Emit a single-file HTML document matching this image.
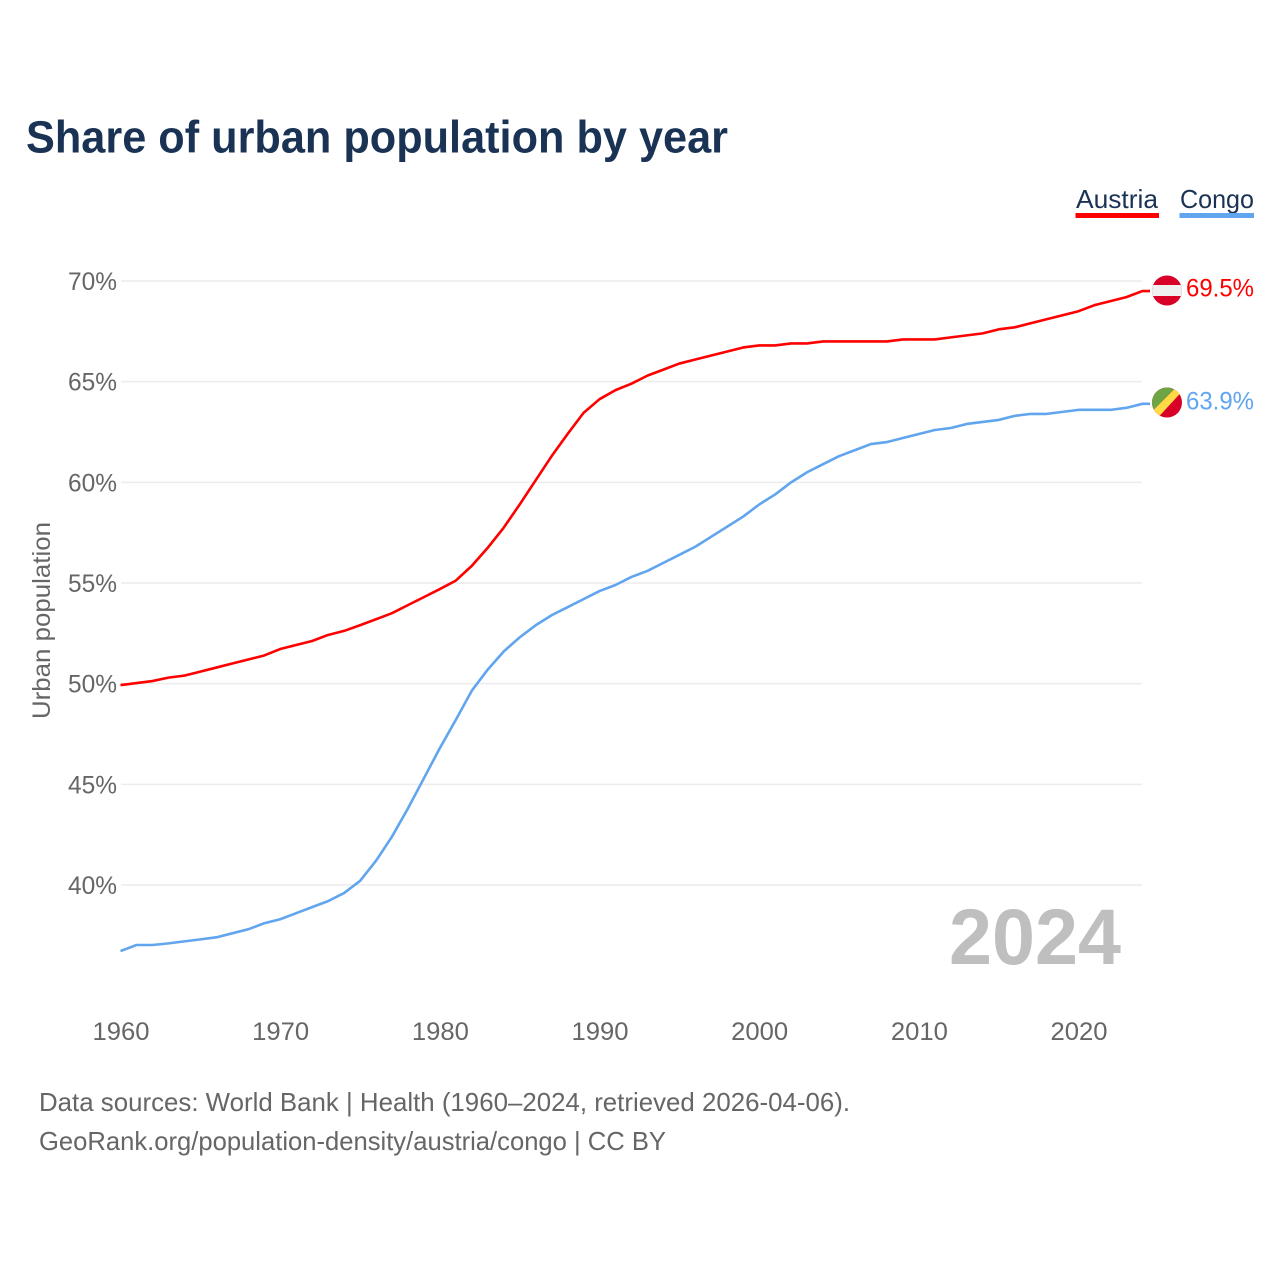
<!DOCTYPE html>
<html lang="en">
<head>
<meta charset="utf-8">
<title>Share of urban population by year</title>
<style>
html,body{margin:0;padding:0;background:#fff;}
svg{display:block;}
text{font-family:"Liberation Sans",sans-serif;}
</style>
</head>
<body>
<svg id="chart" xmlns="http://www.w3.org/2000/svg" width="1280" height="1280" viewBox="0 0 1280 1280">
  <rect width="1280" height="1280" fill="#fff"/>
  <text x="26" y="152.500" font-size="45" font-weight="700" fill="#1a3355" textLength="702" lengthAdjust="spacingAndGlyphs">Share of urban population by year</text>

  <g>
    <text x="1076" y="208" font-size="26" fill="#1a3355" textLength="82" lengthAdjust="spacingAndGlyphs">Austria</text>
    <rect x="1075.500" y="213" width="83.500" height="5" fill="#ff0000"/>
  </g>
  <g>
    <text x="1180" y="208" font-size="26" fill="#1a3355" textLength="74" lengthAdjust="spacingAndGlyphs">Congo</text>
    <rect x="1179.500" y="213" width="74.500" height="5" fill="#60a5ee"/>
  </g>

  <g id="grid"></g>
  <g id="y-ticks"></g>
  <g id="x-ticks"></g>
  <text transform="translate(50,719) rotate(-90)" font-size="25" fill="#666" textLength="197" lengthAdjust="spacingAndGlyphs">Urban population</text>

  <text x="949" y="964" font-size="79" font-weight="700" fill="#bfbfbf" textLength="172" lengthAdjust="spacingAndGlyphs">2024</text>
  <g id="series"></g>

  <defs>
    <clipPath id="flag-clip-austria"><circle cx="1167" cy="290.500" r="15"/></clipPath>
    <clipPath id="flag-clip-congo"><circle cx="1167" cy="402.500" r="15"/></clipPath>
  </defs>
  <g id="flag-austria" clip-path="url(#flag-clip-austria)">
    <rect x="1152" y="275" width="30" height="31" fill="#d80027"/>
    <rect x="1152" y="285" width="30" height="11" fill="#f0f0f0"/>
  </g>
  <g id="flag-congo" clip-path="url(#flag-clip-congo)">
    <rect x="1152" y="387.500" width="30" height="30" fill="#d80027"/>
    <polygon points="1152,387.500 1176,387.500 1152,411.500" fill="#6da544"/>
    <polygon points="1176,387.500 1182,391.500 1158,417.500 1152,411.500" fill="#ffda44"/>
  </g>
  <text x="1186" y="296.500" font-size="25" fill="#ff0000" textLength="68" lengthAdjust="spacingAndGlyphs">69.5%</text>
  <text x="1186" y="409.500" font-size="25" fill="#60a5ee" textLength="68" lengthAdjust="spacingAndGlyphs">63.9%</text>

  <text x="39" y="1111" font-size="26" fill="#666" textLength="811" lengthAdjust="spacingAndGlyphs">Data sources: World Bank | Health (1960–2024, retrieved 2026-04-06).</text>
  <text x="39" y="1150" font-size="26" fill="#666" textLength="627" lengthAdjust="spacingAndGlyphs">GeoRank.org/population-density/austria/congo | CC BY</text>
</svg>
<script>
const startYear = 1960;
const austriaValues = [49.93,50.03,50.13,50.3,50.4,50.6,50.8,51.0,51.2,51.4,51.72,51.92,52.12,52.42,52.62,52.9,53.2,53.5,53.9,54.3,54.7,55.12,55.85,56.75,57.75,58.9,60.1,61.3,62.4,63.45,64.13,64.58,64.9,65.3,65.6,65.9,66.1,66.3,66.5,66.7,66.8,66.8,66.9,66.9,67.0,67.0,67.0,67.0,67.0,67.1,67.1,67.1,67.2,67.3,67.4,67.6,67.7,67.9,68.1,68.3,68.5,68.8,69.0,69.2,69.5];
const congoValues = [36.72,37.02,37.02,37.1,37.2,37.3,37.4,37.6,37.8,38.1,38.3,38.6,38.9,39.2,39.6,40.2,41.2,42.4,43.8,45.3,46.8,48.2,49.65,50.7,51.6,52.3,52.9,53.4,53.8,54.2,54.6,54.9,55.3,55.6,56.0,56.4,56.8,57.3,57.8,58.3,58.9,59.4,60.0,60.5,60.9,61.3,61.6,61.9,62.0,62.2,62.4,62.6,62.7,62.9,63.0,63.1,63.3,63.4,63.4,63.5,63.6,63.6,63.6,63.7,63.9];
const yTicks = [40,45,50,55,60,65,70];
const xTicks = [1960,1970,1980,1990,2000,2010,2020];

const NS = 'http://www.w3.org/2000/svg';
function xScale(year){ return 120.500 + (year - 1960) * 15.967; }
function yScale(v){ return 885 - (v - 40) * 20.133; }

const gridG = document.getElementById('grid');
const yG = document.getElementById('y-ticks');
const xG = document.getElementById('x-ticks');
const seriesG = document.getElementById('series');

yTicks.forEach(function(t){
  const line = document.createElementNS(NS,'line');
  
  
  line.setAttribute('x1', 121);
  line.setAttribute('x2', 1142);
  line.setAttribute('y1', yScale(t));
  line.setAttribute('y2', yScale(t));
  line.setAttribute('stroke', '#ececec');
  line.setAttribute('stroke-width', '1.5');
  gridG.appendChild(line);

  const label = document.createElementNS(NS,'text');
  
  
  label.setAttribute('x', 68);
  label.setAttribute('y', yScale(t) + 9);
  label.setAttribute('font-size', '25');
  label.setAttribute('fill', '#666');
  label.setAttribute('textLength', '49');
  label.setAttribute('lengthAdjust', 'spacingAndGlyphs');
  label.textContent = t + '%';
  yG.appendChild(label);
});

xTicks.forEach(function(t){
  const label = document.createElementNS(NS,'text');
  
  
  label.setAttribute('x', xScale(t) - 28);
  label.setAttribute('y', 1040);
  label.setAttribute('font-size', '25');
  label.setAttribute('fill', '#666');
  label.setAttribute('textLength', '57');
  label.setAttribute('lengthAdjust', 'spacingAndGlyphs');
  label.textContent = t;
  xG.appendChild(label);
});

function drawSeries(values, color){
  const pts = values.map(function(v,i){
    return xScale(startYear + i).toFixed(2) + ',' + yScale(v).toFixed(2);
  });
  const last = values[values.length - 1];
  pts.push('1150,' + yScale(last).toFixed(2));
  const poly = document.createElementNS(NS,'polyline');
  poly.setAttribute('points', pts.join(' '));
  poly.setAttribute('fill', 'none');
  poly.setAttribute('stroke', color);
  poly.setAttribute('stroke-width', '2.6');
  poly.setAttribute('stroke-linejoin', 'round');
  return poly;
}

const austriaLine = drawSeries(austriaValues, '#ff0000');


seriesG.appendChild(austriaLine);

const congoLine = drawSeries(congoValues, '#60a5ee');


seriesG.appendChild(congoLine);
</script>
</body>
</html>
